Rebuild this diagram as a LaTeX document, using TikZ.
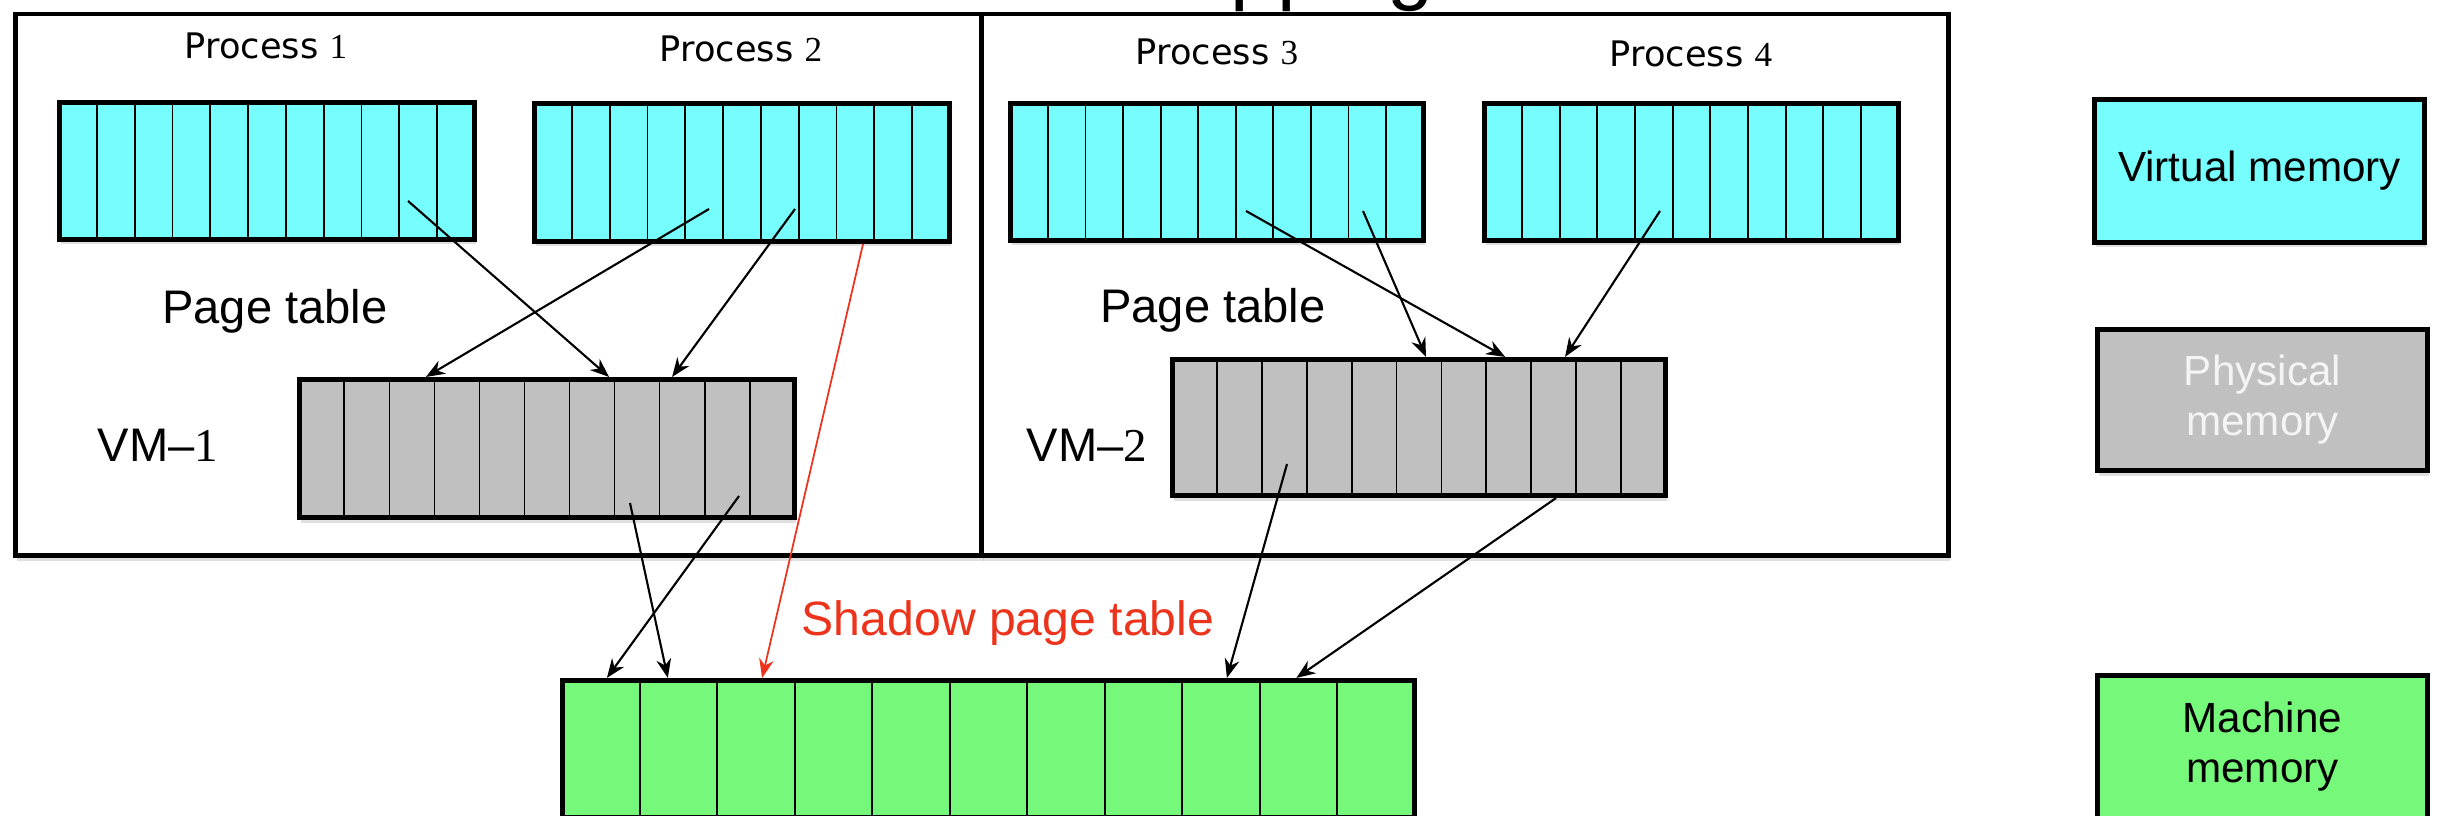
\documentclass[tikz,border=0pt]{standalone}
\usepackage{fontspec}
\setmainfont{Liberation Sans}
\newfontfamily\procfont{DejaVu Sans}
\newfontfamily\numfont{Liberation Serif}
\usetikzlibrary{calc,shadows,arrows.meta}

\definecolor{vcyan}{RGB}{118,253,254}
\definecolor{pgray}{RGB}{192,192,192}
\definecolor{mgreen}{RGB}{118,249,122}
\definecolor{sred}{RGB}{236,52,28}
\definecolor{ptext}{RGB}{244,244,244}

\tikzset{
  softshadow/.style={drop shadow={shadow xshift=0.4pt, shadow yshift=-1.4pt, opacity=0.25}},
  vmframe/.style={draw, line width=1.3pt, fill=white, inner sep=0pt, softshadow},
  pagecells/.style={path picture={
    \foreach \k in {1,...,10}{
      \draw[line width=0.5pt]
        ($(path picture bounding box.south west)!\k/11!(path picture bounding box.south east)$) --
        ($(path picture bounding box.north west)!\k/11!(path picture bounding box.north east)$);
    }}},
  memblock/.style={draw, line width=1.4pt, inner sep=0pt, pagecells, softshadow},
  legendbox/.style={draw, line width=1.4pt, inner sep=0pt, align=center, softshadow,
    font=\fontsize{12pt}{14.2pt}\selectfont},
  proclabel/.style={anchor=base, inner sep=0pt, font=\procfont\fontsize{10pt}{12pt}\selectfont},
  vmlabel/.style={anchor=base west, inner sep=0pt, font=\fontsize{13.4pt}{16pt}\selectfont},
  ptlabel/.style={anchor=base, inner sep=0pt, font=\fontsize{13.4pt}{16pt}\selectfont},
  link/.style={line width=0.6pt, -{Stealth[length=5.4pt,width=4.2pt]}},
  redlink/.style={draw=sred, line width=0.5pt, -{Stealth[length=5.4pt,width=4.2pt]}},
}

\begin{document}
\begin{tikzpicture}[x=0.01cm, y=-0.01cm]
\useasboundingbox (0,0) rectangle (2437,816);
\clip (0,0) rectangle (2437,816);

% heading, mostly above the top edge
\node[anchor=base west, inner sep=0pt, font=\fontsize{23.6pt}{28pt}\selectfont] (title) at (1115,-5) {Mapping};

% the two guest machines
\node[vmframe, minimum width=9.665cm, minimum height=5.415cm] (vmbox1) at (498.75,284.75) {};
\node[vmframe, minimum width=9.66cm, minimum height=5.415cm] (vmbox2) at (1465,284.75) {};

% process address spaces
\node[memblock, fill=vcyan, minimum width=4.20cm-1.4pt, minimum height=1.42cm-1.4pt] (p1) at (267,171) {};
\node[memblock, fill=vcyan, minimum width=4.20cm-1.4pt, minimum height=1.43cm-1.4pt] (p2) at (742,172.5) {};
\node[memblock, fill=vcyan, minimum width=4.18cm-1.4pt, minimum height=1.42cm-1.4pt] (p3) at (1217,172) {};
\node[memblock, fill=vcyan, minimum width=4.19cm-1.4pt, minimum height=1.42cm-1.4pt] (p4) at (1691.5,172) {};

% guest physical memory
\node[memblock, fill=pgray, minimum width=5.00cm-1.4pt, minimum height=1.43cm-1.4pt] (vm1) at (547,448.5) {};
\node[memblock, fill=pgray, minimum width=4.98cm-1.4pt, minimum height=1.41cm-1.4pt] (vm2) at (1419,427.5) {};

% host machine memory
\node[memblock, fill=mgreen, minimum width=8.57cm-1.4pt, minimum height=1.42cm-1.4pt] (mach) at (988.5,749) {};

% labels
\node[proclabel] (lp1) at (266,59) {Process {\numfont 1}};
\node[proclabel] (lp2) at (741,62) {Process {\numfont 2}};
\node[proclabel] (lp3) at (1217,65) {Process {\numfont 3}};
\node[proclabel] (lp4) at (1691,67) {Process {\numfont 4}};
\node[ptlabel] (pt1) at (275,324) {Page table};
\node[ptlabel] (pt2) at (1213,323) {Page table};
\node[vmlabel] (lvm1) at (97,462) {VM–{\numfont 1}};
\node[vmlabel] (lvm2) at (1026,462) {VM–{\numfont 2}};
\node[ptlabel, text=sred, font=\fontsize{13.7pt}{16pt}\selectfont] (spt) at (1008,636) {Shadow page table};

% legend
\node[legendbox, fill=vcyan, minimum width=3.35cm-1.4pt, minimum height=1.48cm-1.4pt] (lgv) at (2259.5,171) {Virtual memory};
\node[legendbox, fill=pgray, text=ptext, minimum width=3.35cm-1.4pt, minimum height=1.46cm-1.4pt] (lgp) at (2262.5,400) {Physical\\memory};
\node[legendbox, fill=mgreen, minimum width=3.35cm-1.4pt, minimum height=1.48cm-1.4pt] (lgm) at (2262.5,747) {Machine\\memory};

% mapping sources
\coordinate (s1) at (408,201);
\coordinate (s2) at (709,209);
\coordinate (s3) at (795,209);
\coordinate (s5) at (630,503);
\coordinate (s6) at (739,496);
\coordinate (s7) at (1246,211);
\coordinate (s8) at (1363,211);
\coordinate (s9) at (1660,211);
\coordinate (s10) at (1287,464);

% process -> guest physical
\draw[link] (s1) -- ($(vm1.north west)!0.624!(vm1.north east)$);
\draw[link] (s2) -- ($(vm1.north west)!0.258!(vm1.north east)$);
\draw[link] (s3) -- ($(vm1.north west)!0.750!(vm1.north east)$);
\draw[link] (s7) -- ($(vm2.north west)!0.673!(vm2.north east)$);
\draw[link] (s8) -- ($(vm2.north west)!0.514!(vm2.north east)$);
\draw[link] (s9) -- ($(vm2.north west)!0.793!(vm2.north east)$);

% guest physical -> machine
\draw[link] (s5) -- ($(mach.north west)!0.126!(mach.north east)$);
\draw[link] (s6) -- ($(mach.north west)!0.055!(mach.north east)$);
\draw[link] (s10) -- ($(mach.north west)!0.778!(mach.north east)$);
\draw[link] ($(vm2.south west)!0.775!(vm2.south east)$) -- ($(mach.north west)!0.859!(mach.north east)$);

% shadow page table: process -> machine directly
\draw[redlink] ($(p2.south west)!0.788!(p2.south east)$) -- ($(mach.north west)!0.236!(mach.north east)$);
\end{tikzpicture}
\end{document}
